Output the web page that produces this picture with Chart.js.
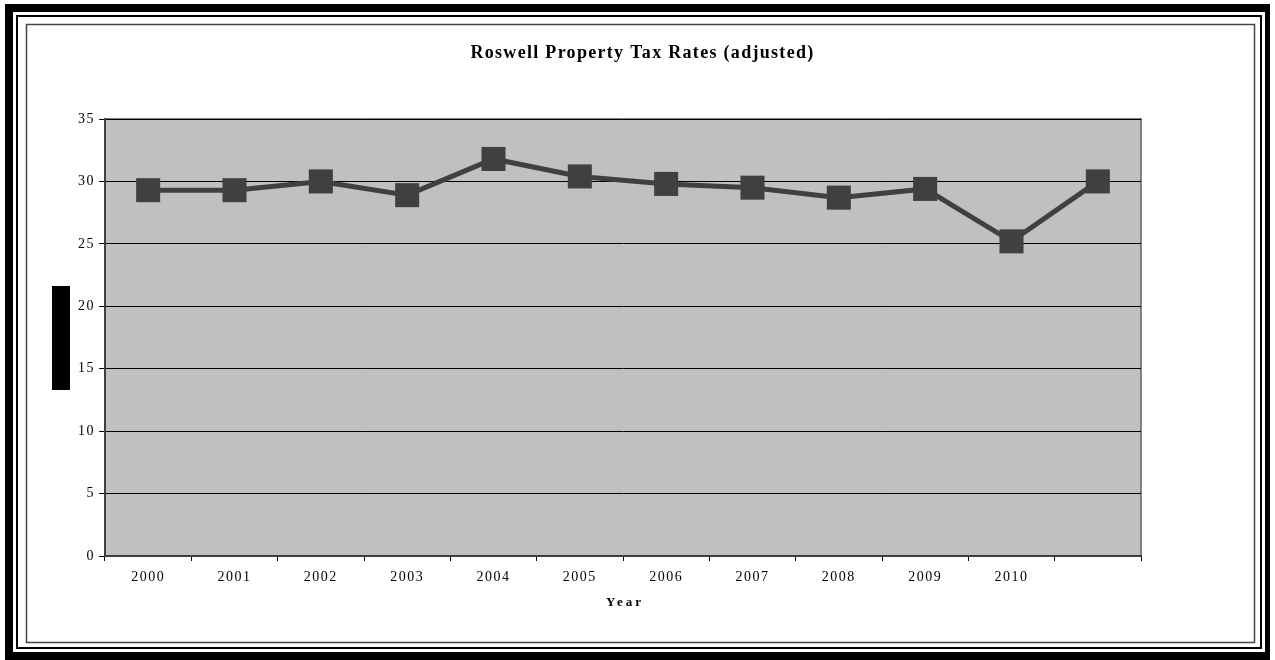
<!DOCTYPE html>
<html>
<head>
<meta charset="utf-8">
<style>
  html, body { margin: 0; padding: 0; background: #fff; }
  #wrap { position: relative; width: 1275px; height: 660px; }
</style>
</head>
<body>
<script src="https://cdn.jsdelivr.net/npm/chart.js@4/dist/chart.umd.min.js"></script>
<div id="wrap"><canvas id="chartContainer" width="1275" height="660"></canvas></div>

<script>
// data
const years = ['2000', '2001', '2002', '2003', '2004', '2005', '2006', '2007', '2008', '2009', '2010', ''];
const taxRates = [29.3, 29.3, 30.0, 28.9, 31.8, 30.4, 29.8, 29.5, 28.7, 29.4, 25.2, 30.0];
const yTicks = [0, 5, 10, 15, 20, 25, 30, 35];
const chartTitle = 'Roswell Property Tax Rates (adjusted)';
const xTitle = 'Year';

// frame, grey plot background and the black box where the y title sits
const framePlugin = {
    id: 'frame',
    beforeDraw(chart) {
        const ctx = chart.ctx;
        const a = chart.chartArea;
        ctx.save();
        ctx.fillStyle = '#fff';
        ctx.fillRect(0, 0, chart.width, chart.height);
        ctx.fillStyle = '#000';
        ctx.fillRect(5, 4, 1265, 656);
        ctx.fillStyle = '#fff';
        ctx.fillRect(13, 12, 1252, 640);
        ctx.strokeStyle = '#000';
        ctx.lineWidth = 2;
        ctx.strokeRect(17, 16, 1244, 632);
        ctx.strokeStyle = '#444';
        ctx.lineWidth = 1.5;
        ctx.strokeRect(26.5, 24.5, 1228, 618);
        ctx.fillStyle = '#c0c0c0';
        ctx.fillRect(a.left, a.top, a.right - a.left, a.bottom - a.top);
        ctx.strokeStyle = '#808080';
        ctx.lineWidth = 2;
        ctx.beginPath();
        ctx.moveTo(a.left, a.top);
        ctx.lineTo(a.right, a.top);
        ctx.lineTo(a.right, a.bottom);
        ctx.stroke();
        // y axis title box
        ctx.fillStyle = '#000';
        ctx.fillRect(a.left - 53, a.top + 167, 18, 104);
        ctx.restore();
        ctx.letterSpacing = '1.5px';
    },
    afterDraw(chart) {
        const ctx = chart.ctx;
        const a = chart.chartArea;
        ctx.save();
        ctx.fillStyle = '#000';
        ctx.textAlign = 'center';
        ctx.textBaseline = 'middle';
        ctx.letterSpacing = '1.3px';
        ctx.font = 'bold 18px "Liberation Serif"';
        ctx.fillText(chartTitle, chart.width / 2 + 5, 53);
        ctx.letterSpacing = '3px';
        ctx.font = 'bold 13px "Liberation Serif"';
        ctx.fillText(xTitle, (a.left + a.right) / 2 + 2, 603);
        ctx.restore();
    }
};

window.onload = function() {
    const chart = new Chart('chartContainer', {
        type: 'line',
        data: {
            labels: years,
            datasets: [{
                label: 'Tax rate',
                data: taxRates,
                borderColor: '#404040',
                backgroundColor: '#404040',
                borderWidth: 5,
                pointStyle: 'rect',
                pointRadius: 17,
                pointHoverRadius: 17,
                pointBorderWidth: 0,
                fill: false,
                tension: 0
            }]
        },
        options: {
            responsive: false,
            animation: false,
            events: [],
            layout: { padding: { left: 60, right: 134, top: 119, bottom: 44 } },
            plugins: {
                legend: { display: false },
                tooltip: { enabled: false },
                title: { display: false }
            },
            scales: {
                x: {
                    offset: true,
                    afterFit: s => { s.height = 60; },
                    grid: {
                        offset: true,
                        drawOnChartArea: false,
                        drawTicks: true,
                        tickLength: 5,
                        color: '#000'
                    },
                    border: { color: '#404040', width: 2 },
                    ticks: {
                        color: '#000',
                        padding: 8,
                        maxRotation: 0,
                        autoSkip: false,
                        font: { family: 'Liberation Serif', size: 14 }
                    }
                },
                y: {
                    min: 0,
                    max: 35,
                    afterFit: s => { s.width = 45; },
                    afterBuildTicks: s => { s.ticks = yTicks.map(v => ({ value: v })); },
                    grid: {
                        color: '#000',
                        lineWidth: 1,
                        tickLength: 6
                    },
                    border: { color: '#404040', width: 2 },
                    ticks: {
                        color: '#000',
                        padding: 4,
                        font: { family: 'Liberation Serif', size: 14 }
                    }
                }
            }
        },
        plugins: [framePlugin]
    });
};
</script>
</body>
</html>
